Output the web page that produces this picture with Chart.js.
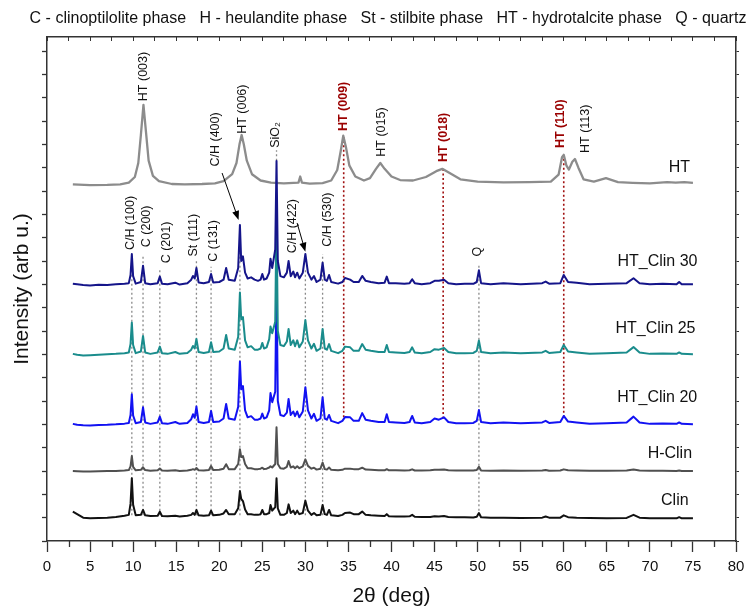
<!DOCTYPE html>
<html>
<head>
<meta charset="utf-8">
<script src="https://cdn.jsdelivr.net/npm/chart.js@4.4.1/dist/chart.umd.min.js"></script>
<style>
  html, body { margin: 0; padding: 0; background: #fff; }
  #wrap { width: 752px; height: 609px; }
</style>
</head>
<body>
<div id="wrap"><canvas id="xrd" width="752" height="609"></canvas></div>
<script>
// 2theta grid shared by the zeolite based samples (deg)
const twoTheta = [
  3.0, 3.5, 4.2, 5.0, 6.0, 7.0, 8.0, 9.0, 9.5,
  9.7, 9.85, 10.0, 10.3, 10.9, 11.15, 11.4, 12.0,
  12.85, 13.1, 13.35, 14.0, 14.9, 15.4, 16.3,
  16.75, 16.95, 17.15, 17.35, 17.6, 18.2, 18.8, 19.05, 19.3,
  20.0, 20.5, 20.8, 21.1, 21.8, 22.2, 22.4, 22.55, 22.75, 23.0, 23.3,
  23.7, 24.1, 24.5, 24.8, 25.0, 25.2, 25.5, 25.8, 25.95, 26.15, 26.5, 26.65, 26.8, 27.1,
  27.5, 27.85, 28.05, 28.3, 28.6, 28.8, 29.05, 29.3,
  29.7, 30.0, 30.3, 30.7, 31.0, 31.3, 31.75, 32.0, 32.25, 32.5, 32.75, 33.0,
  33.8, 34.3, 34.6, 35.2, 35.6, 36.2, 36.6, 37.0, 37.6,
  38.5, 39.2, 39.45, 39.7, 40.5, 41.5, 42.1, 42.4, 42.7,
  43.5, 44.5, 45.0, 45.5, 46.1, 46.6, 47.5, 48.5,
  49.5, 49.9, 50.15, 50.4, 51.5, 53.0, 55.0,
  57.5, 57.9, 58.3, 59.6, 60.0, 60.5, 61.5, 63.0, 65.0,
  67.3, 68.1, 68.8, 70.0, 71.5, 73.1, 73.4, 73.7, 75.0
];

// intensities (stacked, arb. units = y tick steps)
const htClin30 = [
  11.02, 11.0, 10.97, 10.95, 10.98, 10.97, 11.0, 11.03, 11.05,
  11.4, 12.3, 11.35, 11.03, 11.1, 11.8, 11.05, 11.0,
  11.05, 11.33, 11.03, 11.0, 11.07, 10.99, 11.05,
  11.2, 11.36, 11.25, 11.7, 11.08, 11.05, 11.1, 11.44, 11.08,
  11.1, 11.2, 11.7, 11.2, 11.15, 11.7, 13.54, 12.0, 12.2, 11.5, 11.25,
  11.3, 11.2, 11.15, 11.2, 11.44, 11.2, 11.25, 11.5, 12.1, 11.7, 12.5, 16.29, 12.0, 11.35,
  11.3, 11.5, 12.0, 11.35, 11.55, 11.3, 11.5, 11.25,
  11.5, 12.3, 11.5, 11.2, 11.35, 11.1, 11.2, 11.93, 11.2, 11.15, 11.4, 11.1,
  11.03, 11.1, 11.27, 11.2, 11.1, 11.1, 11.36, 11.15, 11.1,
  11.05, 11.07, 11.33, 11.05, 11.05, 11.03, 11.05, 11.22, 11.05,
  11.0, 11.05, 11.15, 11.15, 11.2, 11.05, 11.0, 11.02,
  11.02, 11.1, 11.6, 11.05, 11.0, 11.05, 11.0,
  11.05, 11.12, 11.03, 11.05, 11.4, 11.1, 11.07, 11.0, 11.02,
  11.05, 11.26, 11.05, 11.0, 11.02, 11.0, 11.1, 11.0, 11.0
];
const htClin25 = [
  8.02, 7.98, 7.95, 7.96, 7.98, 8.0, 8.02, 8.05, 8.08,
  8.45, 9.36, 8.4, 8.05, 8.12, 8.79, 8.08, 8.02,
  8.08, 8.33, 8.05, 8.02, 8.1, 8.02, 8.06,
  8.2, 8.36, 8.25, 8.66, 8.1, 8.06, 8.1, 8.52, 8.1,
  8.12, 8.25, 8.83, 8.25, 8.2, 8.75, 10.65, 9.5, 9.6, 8.6, 8.3,
  8.35, 8.2, 8.2, 8.25, 8.49, 8.25, 8.3, 8.65, 9.19, 8.9, 9.4, 14.0, 9.0, 8.4,
  8.35, 8.55, 9.09, 8.4, 8.6, 8.35, 8.6, 8.3,
  8.55, 9.47, 8.6, 8.25, 8.45, 8.15, 8.25, 9.09, 8.25, 8.2, 8.44, 8.15,
  8.05, 8.15, 8.33, 8.3, 8.15, 8.15, 8.44, 8.2, 8.15,
  8.1, 8.1, 8.4, 8.1, 8.08, 8.06, 8.1, 8.3, 8.08,
  8.05, 8.1, 8.22, 8.2, 8.27, 8.1, 8.05, 8.05,
  8.06, 8.15, 8.59, 8.1, 8.05, 8.08, 8.05,
  8.08, 8.15, 8.06, 8.1, 8.4, 8.12, 8.08, 8.03, 8.05,
  8.08, 8.31, 8.08, 8.02, 8.04, 8.02, 8.08, 8.02, 8.0
];
const htClin20 = [
  5.02, 4.98, 4.96, 4.95, 4.97, 4.98, 5.0, 5.03, 5.06,
  5.4, 6.29, 5.38, 5.05, 5.1, 5.73, 5.08, 5.02,
  5.08, 5.33, 5.05, 5.02, 5.1, 5.02, 5.06,
  5.22, 5.43, 5.28, 5.76, 5.1, 5.06, 5.1, 5.57, 5.1,
  5.12, 5.25, 5.87, 5.25, 5.2, 5.75, 7.69, 6.5, 6.64, 5.6, 5.3,
  5.35, 5.2, 5.2, 5.25, 5.46, 5.25, 5.3, 5.6, 6.34, 5.95, 6.4, 11.3, 6.0, 5.4,
  5.35, 5.5, 6.09, 5.4, 5.55, 5.35, 5.55, 5.3,
  5.55, 6.59, 5.6, 5.25, 5.45, 5.15, 5.25, 6.16, 5.25, 5.2, 5.4, 5.15,
  5.05, 5.15, 5.31, 5.3, 5.15, 5.15, 5.48, 5.2, 5.15,
  5.1, 5.1, 5.43, 5.1, 5.08, 5.06, 5.1, 5.36, 5.08,
  5.05, 5.1, 5.25, 5.2, 5.3, 5.1, 5.05, 5.05,
  5.06, 5.15, 5.61, 5.1, 5.05, 5.08, 5.05,
  5.08, 5.15, 5.06, 5.1, 5.36, 5.12, 5.08, 5.03, 5.05,
  5.08, 5.33, 5.08, 5.02, 5.04, 5.02, 5.08, 5.02, 5.0
];
const hClin = [
  3.0, 2.99, 2.98, 2.98, 2.99, 3.0, 3.0, 3.02, 3.04,
  3.2, 3.64, 3.18, 3.03, 3.05, 3.16, 3.04, 3.01,
  3.03, 3.11, 3.02, 3.01, 3.03, 3.0, 3.02,
  3.05, 3.08, 3.05, 3.13, 3.03, 3.02, 3.04, 3.21, 3.04,
  3.05, 3.1, 3.29, 3.08, 3.08, 3.3, 3.93, 3.6, 3.64, 3.3, 3.12,
  3.12, 3.08, 3.08, 3.1, 3.14, 3.08, 3.1, 3.15, 3.2, 3.15, 3.3, 4.87, 3.3, 3.12,
  3.1, 3.18, 3.43, 3.15, 3.2, 3.12, 3.2, 3.12,
  3.2, 3.5, 3.22, 3.1, 3.14, 3.06, 3.1, 3.36, 3.08, 3.06, 3.15, 3.05,
  3.03, 3.05, 3.1, 3.1, 3.08, 3.08, 3.14, 3.06, 3.05,
  3.03, 3.03, 3.08, 3.03, 3.03, 3.02, 3.03, 3.07, 3.02,
  3.02, 3.03, 3.05, 3.05, 3.06, 3.03, 3.02, 3.02,
  3.02, 3.04, 3.18, 3.02, 3.01, 3.02, 3.01,
  3.02, 3.04, 3.01, 3.02, 3.07, 3.03, 3.02, 3.01, 3.01,
  3.02, 3.06, 3.02, 3.01, 3.01, 3.0, 3.02, 3.0, 3.0
];
const clin = [
  1.26, 1.15, 1.0, 0.98, 0.99, 1.0, 1.03, 1.08, 1.12,
  1.6, 2.69, 1.55, 1.1, 1.12, 1.33, 1.1, 1.07,
  1.08, 1.26, 1.07, 1.06, 1.08, 1.05, 1.08,
  1.12, 1.2, 1.12, 1.33, 1.1, 1.08, 1.1, 1.3, 1.1,
  1.12, 1.18, 1.33, 1.15, 1.15, 1.4, 2.14, 1.8, 1.71, 1.35, 1.15,
  1.15, 1.12, 1.12, 1.15, 1.33, 1.15, 1.15, 1.2, 1.54, 1.3, 1.45, 2.69, 1.4, 1.12,
  1.12, 1.2, 1.57, 1.2, 1.3, 1.15, 1.3, 1.15,
  1.2, 1.73, 1.3, 1.12, 1.2, 1.1, 1.12, 1.54, 1.15, 1.12, 1.33, 1.1,
  1.07, 1.12, 1.2, 1.22, 1.15, 1.15, 1.26, 1.12, 1.1,
  1.08, 1.07, 1.15, 1.06, 1.05, 1.05, 1.06, 1.12, 1.04,
  1.03, 1.03, 1.06, 1.05, 1.07, 1.03, 1.02, 1.02,
  1.01, 1.04, 1.2, 1.02, 1.0, 1.0, 0.99,
  1.0, 1.05, 1.0, 1.0, 1.1, 1.02, 1.0, 0.99, 0.98,
  0.99, 1.12, 1.0, 0.98, 0.98, 0.97, 1.02, 0.97, 0.97
];

// pure hydrotalcite pattern has its own grid
const htTheta = [
  3.0, 5.0, 7.0, 8.5, 9.5, 10.2, 10.6, 10.9, 11.2, 11.5,
  11.8, 12.3, 13.0, 14.5, 16.0, 18.0, 19.5, 20.5, 21.5, 22.0,
  22.35, 22.6, 22.85, 23.2, 23.8, 24.8, 26.0, 27.5, 29.2, 29.4,
  29.6, 30.5, 32.0, 33.0, 33.7, 34.1, 34.4, 34.7, 35.1, 35.8,
  36.8, 37.5, 38.2, 38.7, 39.2, 40.0, 41.0, 42.5, 44.0, 45.2,
  45.9, 46.6, 48.0, 50.0, 53.0, 56.0, 58.5, 59.4, 59.8, 60.0,
  60.3, 60.6, 61.0, 61.3, 61.7, 62.3, 63.5, 64.9, 66.3, 68.0,
  70.0, 72.0, 73.0, 74.0, 75.0
];
const ht = [
  15.28, 15.25, 15.26, 15.28, 15.36, 15.6, 16.2, 17.4, 18.69, 17.5,
  16.3, 15.65, 15.42, 15.3, 15.28, 15.3, 15.33, 15.42, 15.72, 16.2,
  17.0, 17.4, 17.0, 16.3, 15.72, 15.45, 15.36, 15.33, 15.36, 15.62,
  15.36, 15.32, 15.34, 15.45, 15.9, 16.7, 17.37, 16.9, 16.1, 15.62,
  15.45, 15.55, 15.95, 16.2, 15.95, 15.62, 15.47, 15.45, 15.6, 15.85,
  15.95, 15.8, 15.5, 15.4, 15.37, 15.38, 15.4, 15.7, 16.45, 16.55,
  16.1, 15.92, 16.25, 16.37, 16.0, 15.5, 15.4, 15.55, 15.38, 15.35,
  15.33, 15.38, 15.36, 15.38, 15.35
];

const seriesNames  = ['HT_Clin 30', 'HT_Clin 25', 'HT_Clin 20', 'HT', 'H-Clin', 'Clin'];
const seriesColors = ['#15158a', '#1a8c8c', '#1212f2', '#8c8c8c', '#505050', '#111111'];
// where each sample name sits (right edge 2theta, baseline intensity)
const nameX = [75.53, 75.3, 75.5, 74.66, 74.9, 74.5];
const nameY = [11.79, 8.92, 5.97, 15.83, 3.56, 1.54];

// reflection labels: text, 2theta, start intensity, highlighted
const peakLabels = [
  ['HT (003)', 11.22, 18.85, false],
  ['HT (006)', 22.65, 17.45, false],
  ['C/H (400)', 19.55, 16.05, false],
  ['SiO\u2082', 26.5, 16.85, false],
  ['HT (009)', 34.45, 17.57, true],
  ['HT (015)', 38.83, 16.47, false],
  ['HT (018)', 46.06, 16.24, true],
  ['HT (110)', 59.6, 16.84, true],
  ['HT (113)', 62.5, 16.63, false],
  ['C/H (100)', 9.67, 12.47, false],
  ['C (200)', 11.61, 12.59, false],
  ['C (201)', 13.86, 11.9, false],
  ['St (111)', 17.03, 12.19, false],
  ['C (131)', 19.35, 11.97, false],
  ['C/H (422)', 28.53, 12.33, false],
  ['C/H (530)', 32.52, 12.61, false],
  ['Q', 49.94, 12.19, false]
];
// dotted guide lines: 2theta, from, to
const greyLines = [
  [9.85, 1.1, 12.3], [11.15, 1.1, 12.2], [13.1, 1.1, 11.7], [17.35, 1.1, 12.0],
  [19.05, 1.1, 11.75], [22.4, 1.1, 13.0], [30.0, 1.1, 11.6], [32.0, 1.1, 12.3],
  [50.15, 1.1, 11.9], [26.65, 16.3, 16.75]
];
const redLines = [[34.45, 5.3, 17.3], [46.0, 5.25, 15.9], [60.0, 5.3, 16.5]];
// arrows: from (2theta, I) to (2theta, I)
const arrows = [[20.33, 15.77, 22.25, 13.76], [29.04, 13.63, 30.0, 12.4]];

const headerText = 'C - clinoptilolite phase   H - heulandite phase   St - stilbite phase   HT - hydrotalcite phase   Q - quartz';
const FONT = "'Liberation Sans', Arial, sans-serif";

const zeoliteSeries = [htClin30, htClin25, htClin20, null, hClin, clin];
const datasets = seriesNames.map((name, i) => {
  const xs = name === 'HT' ? htTheta : twoTheta;
  const ys = name === 'HT' ? ht : zeoliteSeries[i];
  return {
    label: name,
    data: xs.map((t, k) => ({x: t, y: ys[k]})),
    borderColor: seriesColors[i],
    borderWidth: name === 'HT' ? 2.3 : 2,
    borderJoinStyle: 'round',
    pointRadius: 0,
    fill: false
  };
});

const xrdDecor = {
  id: 'xrdDecor',
  beforeDatasetsDraw(chart) {
    const {ctx, scales: {x, y}} = chart;
    ctx.save();
    ctx.setLineDash([2, 2.5]);
    ctx.lineWidth = 1.3;
    ctx.strokeStyle = '#8a8a8a';
    greyLines.forEach(([t, a, b]) => {
      ctx.beginPath();
      ctx.moveTo(x.getPixelForValue(t), y.getPixelForValue(a));
      ctx.lineTo(x.getPixelForValue(t), y.getPixelForValue(b));
      ctx.stroke();
    });
    ctx.lineWidth = 1.6;
    ctx.strokeStyle = '#a01010';
    redLines.forEach(([t, a, b]) => {
      ctx.beginPath();
      ctx.moveTo(x.getPixelForValue(t), y.getPixelForValue(a));
      ctx.lineTo(x.getPixelForValue(t), y.getPixelForValue(b));
      ctx.stroke();
    });
    ctx.restore();
  },
  afterDatasetsDraw(chart) {
    const {ctx, scales: {x, y}} = chart;
    ctx.save();
    // rotated reflection labels
    peakLabels.forEach(([txt, t, v, hi]) => {
      ctx.save();
      ctx.font = (hi ? 'bold ' : '') + '12.5px ' + FONT;
      ctx.fillStyle = hi ? '#9a0000' : '#111';
      ctx.translate(x.getPixelForValue(t), y.getPixelForValue(v));
      ctx.rotate(-Math.PI / 2);
      ctx.textAlign = 'left';
      ctx.textBaseline = 'middle';
      ctx.fillText(txt, 0, 0);
      ctx.restore();
    });
    // arrows
    ctx.strokeStyle = '#000';
    ctx.fillStyle = '#000';
    ctx.lineWidth = 1;
    arrows.forEach(([t0, v0, t1, v1]) => {
      const x0 = x.getPixelForValue(t0), y0 = y.getPixelForValue(v0);
      const x1 = x.getPixelForValue(t1), y1 = y.getPixelForValue(v1);
      const ang = Math.atan2(y1 - y0, x1 - x0);
      ctx.beginPath();
      ctx.moveTo(x0, y0);
      ctx.lineTo(x1 - 8 * Math.cos(ang), y1 - 8 * Math.sin(ang));
      ctx.stroke();
      ctx.beginPath();
      ctx.moveTo(x1, y1);
      ctx.lineTo(x1 - 9 * Math.cos(ang) + 3.5 * Math.sin(ang), y1 - 9 * Math.sin(ang) - 3.5 * Math.cos(ang));
      ctx.lineTo(x1 - 9 * Math.cos(ang) - 3.5 * Math.sin(ang), y1 - 9 * Math.sin(ang) + 3.5 * Math.cos(ang));
      ctx.closePath();
      ctx.fill();
    });
    // sample names
    ctx.font = '16px ' + FONT;
    ctx.fillStyle = '#111';
    ctx.textAlign = 'right';
    ctx.textBaseline = 'alphabetic';
    seriesNames.forEach((n, i) => {
      ctx.fillText(n, x.getPixelForValue(nameX[i]), y.getPixelForValue(nameY[i]));
    });
    ctx.restore();
  },
  afterDraw(chart) {
    const {ctx, scales: {x}} = chart;
    ctx.save();
    // minor ticks on the bottom axis
    ctx.strokeStyle = '#333';
    ctx.lineWidth = 1.3;
    for (let t = 2.5; t < 80; t += 5) {
      const px = Math.round(x.getPixelForValue(t)) + 0.5;
      ctx.beginPath();
      ctx.moveTo(px, x.top);
      ctx.lineTo(px, x.top + 6);
      ctx.stroke();
    }
    // phase legend on top
    ctx.font = '16px ' + FONT;
    ctx.fillStyle = '#111';
    ctx.textAlign = 'center';
    ctx.textBaseline = 'middle';
    ctx.fillText(headerText, 388, 19);
    ctx.restore();
  }
};

Chart.defaults.font.family = FONT;

new Chart(document.getElementById('xrd'), {
  type: 'line',
  data: { datasets },
  plugins: [xrdDecor],
  options: {
    responsive: false,
    animation: false,
    devicePixelRatio: 1,
    parsing: false,
    layout: { padding: 0 },
    plugins: { legend: { display: false }, tooltip: { enabled: false } },
    scales: {
      x: {
        type: 'linear', position: 'bottom', min: 0, max: 80,
        ticks: { stepSize: 5, color: '#111', font: { size: 15 }, padding: 6, maxRotation: 0, autoSkip: false },
        grid: { drawOnChartArea: false, tickLength: 11, tickColor: '#333', tickWidth: 1.3 },
        border: { color: '#333', width: 1.5 },
        title: { display: true, text: '2θ (deg)', color: '#111', font: { size: 21 }, padding: { top: 0, bottom: 0 } },
        afterFit(s) { s.height = 68; }
      },
      x2: {
        type: 'linear', position: 'top', min: 0, max: 80,
        ticks: { display: false, stepSize: 2.5 },
        grid: { drawOnChartArea: false, tickLength: -4, tickColor: '#333', tickWidth: 1 },
        border: { color: '#333', width: 1.5 },
        afterFit(s) { s.height = 37; }
      },
      y: {
        type: 'linear', position: 'left', min: 0, max: 21.6,
        ticks: { display: false, stepSize: 1, includeBounds: false },
        grid: { drawOnChartArea: false, tickLength: 5, tickColor: '#333', tickWidth: 1.3 },
        border: { color: '#333', width: 1.5 },
        title: { display: true, text: 'Intensity (arb u.)', color: '#111', font: { size: 21 }, padding: { top: 10, bottom: 0 } },
        afterFit(s) { s.width = 47; }
      },
      y2: {
        type: 'linear', position: 'right', min: 0, max: 21.6,
        ticks: { display: false, stepSize: 1, includeBounds: false },
        grid: { drawOnChartArea: false, tickLength: 3, tickColor: '#333', tickWidth: 1 },
        border: { color: '#333', width: 1.5 },
        afterFit(s) { s.width = 16; }
      }
    }
  }
});
</script>
</body>
</html>
